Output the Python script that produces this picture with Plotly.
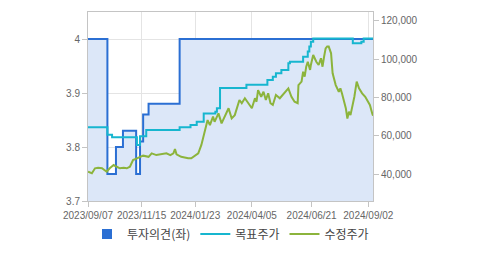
import plotly.graph_objects as go

# 투자의견 (left axis) – step values
opinion_dates = ["2023-09-07", "2023-10-02", "2023-10-13", "2023-10-22", "2023-11-08",
                 "2023-11-13", "2023-11-17", "2023-11-24", "2024-01-03", "2024-09-08"]
opinion_vals = [4.0, 3.75, 3.80, 3.83, 3.75, 3.81, 3.86, 3.88, 4.0, 4.0]

# 목표주가 (right axis) – step values
target_dates = ["2023-09-07", "2023-10-02", "2023-10-08", "2023-11-09", "2023-11-13",
                "2023-11-21", "2024-01-03", "2024-01-17", "2024-01-25", "2024-02-03",
                "2024-02-18", "2024-02-20", "2024-02-24", "2024-03-29", "2024-04-25",
                "2024-05-02", "2024-05-06", "2024-05-13", "2024-05-22", "2024-05-24",
                "2024-06-10", "2024-06-16", "2024-06-18", "2024-06-20", "2024-06-23",
                "2024-08-13", "2024-08-24", "2024-08-27", "2024-09-08"]
target_vals = [64500, 60500, 59200, 55200, 59800, 63000, 64400, 65600, 67300, 71700,
               72600, 74400, 85000, 86700, 89200, 90900, 92700, 94400, 97900, 98700,
               101300, 104000, 106600, 109200, 110900, 108300, 109200, 110900, 110900]

# 수정주가 (right axis)
price_dates = ["2023-09-07", "2023-09-12", "2023-09-16", "2023-09-20", "2023-09-25",
               "2023-09-29", "2023-10-01", "2023-10-05", "2023-10-10", "2023-10-14",
               "2023-10-18", "2023-10-23", "2023-10-27", "2023-10-31", "2023-11-04",
               "2023-11-09", "2023-11-13", "2023-11-17", "2023-11-24", "2023-11-28",
               "2023-12-04", "2023-12-11", "2023-12-17", "2023-12-22", "2023-12-26",
               "2023-12-28", "2023-12-30", "2024-01-05", "2024-01-09", "2024-01-14",
               "2024-01-18", "2024-01-23", "2024-01-27", "2024-01-31", "2024-02-04",
               "2024-02-06", "2024-02-08", "2024-02-11", "2024-02-15", "2024-02-17",
               "2024-02-22", "2024-02-26", "2024-03-01", "2024-03-06", "2024-03-10",
               "2024-03-14", "2024-03-20", "2024-03-23", "2024-03-27", "2024-03-31",
               "2024-04-05", "2024-04-09", "2024-04-11", "2024-04-13", "2024-04-17",
               "2024-04-20", "2024-04-23", "2024-04-26", "2024-04-29", "2024-05-02",
               "2024-05-06", "2024-05-11", "2024-05-15", "2024-05-22", "2024-05-26",
               "2024-05-30", "2024-06-03", "2024-06-04", "2024-06-08", "2024-06-10",
               "2024-06-12", "2024-06-14", "2024-06-16", "2024-06-19", "2024-06-20",
               "2024-06-23", "2024-06-27", "2024-06-30", "2024-07-03", "2024-07-05",
               "2024-07-07", "2024-07-09", "2024-07-11", "2024-07-13", "2024-07-16",
               "2024-07-18", "2024-07-22", "2024-07-26", "2024-07-28", "2024-07-30",
               "2024-08-04", "2024-08-06", "2024-08-08", "2024-08-10", "2024-08-15",
               "2024-08-18", "2024-08-21", "2024-08-25", "2024-08-29", "2024-09-01",
               "2024-09-04", "2024-09-07", "2024-09-08"]
price_vals = [41200, 40400, 43000, 43300, 43000, 42100, 41200, 43000, 44700, 43800,
              43000, 43300, 43000, 43800, 47300, 48200, 49000, 49600, 49000, 50800,
              49900, 50300, 50800, 49900, 50800, 53100, 50300, 49000, 48500, 48200,
              48200, 49900, 50800, 55200, 62100, 64700, 68200, 65600, 70000, 67300,
              71700, 66500, 70000, 74400, 69100, 70800, 78700, 77000, 79600, 77000,
              74400, 79600, 77800, 83900, 80400, 83000, 78700, 82200, 77000, 76100,
              81300, 79600, 81300, 84800, 80400, 77800, 77000, 86500, 88300, 93500,
              90900, 96100, 98700, 94400, 97000, 102200, 98700, 97000, 100500, 96100,
              101300, 105700, 106600, 106600, 103100, 92700, 86500, 83000, 84800, 82200,
              74400, 69000, 72600, 70800, 80400, 88300, 84800, 82200, 80400, 77800,
              76100, 71700, 70500]

x_tick_vals = ["2023-09-07", "2023-11-15", "2024-01-23", "2024-04-05", "2024-06-21", "2024-09-02"]
x_tick_text = ["2023/09/07", "2023/11/15", "2024/01/23", "2024/04/05", "2024/06/21", "2024/09/02"]

BLUE = "#2b6fd3"
CYAN = "#17b6cf"
GREEN = "#8cb43c"
FILL = "#dce7f8"
GRID = "#e4e4e4"
AXIS = "#c4c4c4"
FONT = "Liberation Sans, Noto Sans CJK KR"
KFONT = "Noto Sans CJK KR"

fig = go.Figure()
fig.add_trace(go.Scatter(x=opinion_dates, y=opinion_vals, mode="lines", line=dict(color=BLUE, width=2, shape="hv"),
                         fill="tozeroy", fillcolor=FILL, showlegend=False, name="투자의견(좌)"))
fig.add_trace(go.Scatter(x=[None], y=[None], mode="markers", name="투자의견(좌)",
                         marker=dict(symbol="square", size=10, color=BLUE)))
fig.add_trace(go.Scatter(x=target_dates, y=target_vals, mode="lines", name="목표주가",
                         line=dict(color=CYAN, width=2, shape="hv"), yaxis="y2"))
fig.add_trace(go.Scatter(x=price_dates, y=price_vals, mode="lines", name="수정주가",
                         line=dict(color=GREEN, width=2), yaxis="y2"))

fig.update_layout(
    width=479, height=254,
    margin=dict(l=88, r=106, t=12, b=53, autoexpand=False),
    paper_bgcolor="white", plot_bgcolor="white",
    font=dict(family=FONT, size=10, color="#666666"),
    xaxis=dict(type="date", range=["2023-09-07", "2024-09-08"], tickvals=x_tick_vals, ticktext=x_tick_text,
               tickangle=0, showgrid=True, gridcolor=GRID, showline=True, linecolor=AXIS, linewidth=1, mirror=True,
               ticks="outside", ticklen=5, tickcolor=AXIS, zeroline=False, automargin=False,
               tickfont=dict(size=10, color="#666666")),
    yaxis=dict(range=[3.7, 4.05], tickvals=[3.7, 3.8, 3.9, 4.0], ticktext=["3.7", "3.8", "3.9", "4"],
               showgrid=True, gridcolor=GRID, showline=True, linecolor=AXIS, ticks="outside", automargin=False,
               ticklen=5, tickcolor=AXIS, zeroline=False, tickfont=dict(size=10, color="#666666")),
    yaxis2=dict(range=[25900, 124700], overlaying="y", side="right", tickvals=[40000, 60000, 80000, 100000, 120000],
                tickformat=",d", showgrid=False, showline=True, linecolor=AXIS, ticks="outside", automargin=False,
                ticklen=5, tickcolor=AXIS, zeroline=False, tickfont=dict(size=10, color="#666666")),
    legend=dict(orientation="h", x=0.5, xanchor="center", yref="container", y=0.079, yanchor="middle",
                font=dict(family=KFONT, size=12, color="#444444"), itemwidth=30, tracegroupgap=0,
                bgcolor="rgba(0,0,0,0)"),
)

fig.write_html("out.html")
